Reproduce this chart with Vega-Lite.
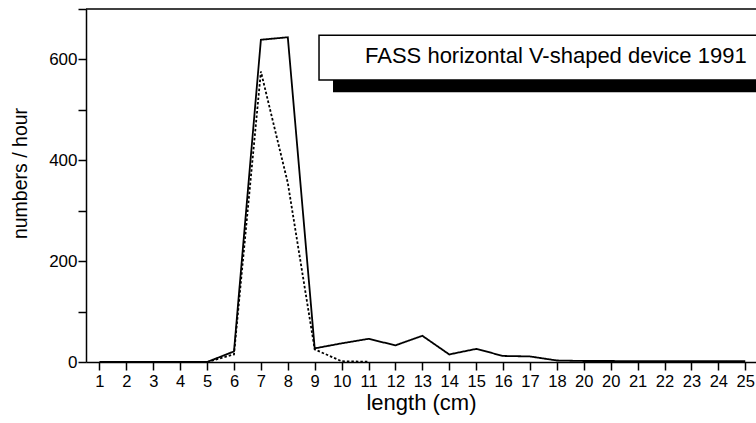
{
  "$schema": "https://vega.github.io/schema/vega-lite/v6.json",
  "width": 670,
  "height": 353,
  "autosize": {"type": "none"},
  "padding": {"left": 86, "top": 9, "right": 0, "bottom": 61},
  "background": "white",
  "config": {
    "view": {"stroke": null},
    "font": "Liberation Sans",
    "axis": {"domainColor": "black", "tickColor": "black", "labelColor": "black", "titleColor": "black", "grid": false, "titleFontWeight": "normal", "domainWidth": 1.5, "tickWidth": 1.5, "tickSize": 8, "labelOverlap": false}
  },
  "datasets": {
    "series": [
      {"len": 1, "s": "solid", "v": 0}, {"len": 2, "s": "solid", "v": 0}, {"len": 3, "s": "solid", "v": 0},
      {"len": 4, "s": "solid", "v": 0}, {"len": 5, "s": "solid", "v": 0}, {"len": 6, "s": "solid", "v": 21},
      {"len": 7, "s": "solid", "v": 639}, {"len": 8, "s": "solid", "v": 644}, {"len": 9, "s": "solid", "v": 27},
      {"len": 10, "s": "solid", "v": 37}, {"len": 11, "s": "solid", "v": 46}, {"len": 12, "s": "solid", "v": 33},
      {"len": 13, "s": "solid", "v": 52}, {"len": 14, "s": "solid", "v": 15}, {"len": 15, "s": "solid", "v": 26},
      {"len": 16, "s": "solid", "v": 12}, {"len": 17, "s": "solid", "v": 11}, {"len": 18, "s": "solid", "v": 3},
      {"len": 19, "s": "solid", "v": 2}, {"len": 20, "s": "solid", "v": 2}, {"len": 21, "s": "solid", "v": 1.5},
      {"len": 22, "s": "solid", "v": 1.5}, {"len": 23, "s": "solid", "v": 1.5}, {"len": 24, "s": "solid", "v": 1.5},
      {"len": 25, "s": "solid", "v": 1.5},
      {"len": 5, "s": "dotted", "v": 0}, {"len": 6, "s": "dotted", "v": 15}, {"len": 7, "s": "dotted", "v": 576},
      {"len": 8, "s": "dotted", "v": 355}, {"len": 9, "s": "dotted", "v": 25}, {"len": 10, "s": "dotted", "v": 1.5},
      {"len": 11, "s": "dotted", "v": 0.5}
    ],
    "top": [{"v": 700}],
    "shadow": [{"len": 9.68, "len2": 26, "v": 535, "v2": 625}],
    "box": [{"len": 9.16, "len2": 26, "v": 559, "v2": 648}],
    "label": [{"len": 10.87, "v": 592, "label": "FASS horizontal V-shaped device 1991"}]
  },
  "layer": [
    {
      "data": {"name": "series"},
      "mark": {"type": "line", "color": "black", "strokeWidth": 1.8},
      "encoding": {
        "x": {"field": "len", "type": "quantitative", "scale": {"domain": [0.5, 25.4], "nice": false, "zero": false},
          "axis": {"values": [1,2,3,4,5,6,7,8,9,10,11,12,13,14,15,16,17,18,19,20,21,22,23,24,25],
            "labelExpr": "datum.value == 19 ? '20' : datum.label", "labelOverlap": false, "labelFontSize": 16.5, "labelPadding": 3, "title": "length (cm)", "titleFontSize": 22, "titlePadding": 3}},
        "y": {"field": "v", "type": "quantitative", "scale": {"domain": [0, 700], "nice": false},
          "axis": {"values": [0,100,200,300,400,500,600,700], "labelExpr": "datum.value % 200 == 0 ? datum.label : ''",
            "labelOverlap": false, "labelFontSize": 17, "labelPadding": 1, "title": "numbers / hour", "titleFontSize": 19.5, "titleX": -56, "titleY": 164, "titleBaseline": "bottom"}},
        "strokeDash": {"field": "s", "type": "nominal", "scale": {"domain": ["solid", "dotted"], "range": [[1, 0], [2.5, 2]]}, "legend": null}
      }
    },
    {
      "data": {"name": "top"},
      "mark": {"type": "rule", "color": "black", "strokeWidth": 1.5},
      "encoding": {"y": {"field": "v", "type": "quantitative",
          "axis": {"values": [0,100,200,300,400,500,600,700], "labelExpr": "datum.value % 200 == 0 ? datum.label : ''",
            "labelOverlap": false, "labelFontSize": 17, "labelPadding": 1, "title": "numbers / hour", "titleFontSize": 19.5, "titleX": -56, "titleY": 164, "titleBaseline": "bottom"}}}
    },
    {
      "data": {"name": "shadow"},
      "mark": {"type": "rect", "color": "black", "clip": true},
      "encoding": {
        "x": {"field": "len", "type": "quantitative", "axis": {"values": [1,2,3,4,5,6,7,8,9,10,11,12,13,14,15,16,17,18,19,20,21,22,23,24,25],
            "labelExpr": "datum.value == 19 ? '20' : datum.label", "labelOverlap": false, "labelFontSize": 16.5, "labelPadding": 3, "title": "length (cm)", "titleFontSize": 22, "titlePadding": 3}},
        "x2": {"field": "len2"},
        "y": {"field": "v", "type": "quantitative", "axis": {"values": [0,100,200,300,400,500,600,700], "labelExpr": "datum.value % 200 == 0 ? datum.label : ''",
            "labelOverlap": false, "labelFontSize": 17, "labelPadding": 1, "title": "numbers / hour", "titleFontSize": 19.5, "titleX": -56, "titleY": 164, "titleBaseline": "bottom"}},
        "y2": {"field": "v2"}}
    },
    {
      "data": {"name": "box"},
      "mark": {"type": "rect", "fill": "white", "stroke": "black", "strokeWidth": 1.5, "clip": true},
      "encoding": {
        "x": {"field": "len", "type": "quantitative", "axis": {"values": [1,2,3,4,5,6,7,8,9,10,11,12,13,14,15,16,17,18,19,20,21,22,23,24,25],
            "labelExpr": "datum.value == 19 ? '20' : datum.label", "labelOverlap": false, "labelFontSize": 16.5, "labelPadding": 3, "title": "length (cm)", "titleFontSize": 22, "titlePadding": 3}},
        "x2": {"field": "len2"},
        "y": {"field": "v", "type": "quantitative", "axis": {"values": [0,100,200,300,400,500,600,700], "labelExpr": "datum.value % 200 == 0 ? datum.label : ''",
            "labelOverlap": false, "labelFontSize": 17, "labelPadding": 1, "title": "numbers / hour", "titleFontSize": 19.5, "titleX": -56, "titleY": 164, "titleBaseline": "bottom"}},
        "y2": {"field": "v2"}}
    },
    {
      "data": {"name": "label"},
      "mark": {"type": "text", "align": "left", "baseline": "alphabetic", "fontSize": 22, "color": "black"},
      "encoding": {
        "x": {"field": "len", "type": "quantitative", "axis": {"values": [1,2,3,4,5,6,7,8,9,10,11,12,13,14,15,16,17,18,19,20,21,22,23,24,25],
            "labelExpr": "datum.value == 19 ? '20' : datum.label", "labelOverlap": false, "labelFontSize": 16.5, "labelPadding": 3, "title": "length (cm)", "titleFontSize": 22, "titlePadding": 3}},
        "y": {"field": "v", "type": "quantitative", "axis": {"values": [0,100,200,300,400,500,600,700], "labelExpr": "datum.value % 200 == 0 ? datum.label : ''",
            "labelOverlap": false, "labelFontSize": 17, "labelPadding": 1, "title": "numbers / hour", "titleFontSize": 19.5, "titleX": -56, "titleY": 164, "titleBaseline": "bottom"}},
        "text": {"field": "label"}}
    }
  ]
}
